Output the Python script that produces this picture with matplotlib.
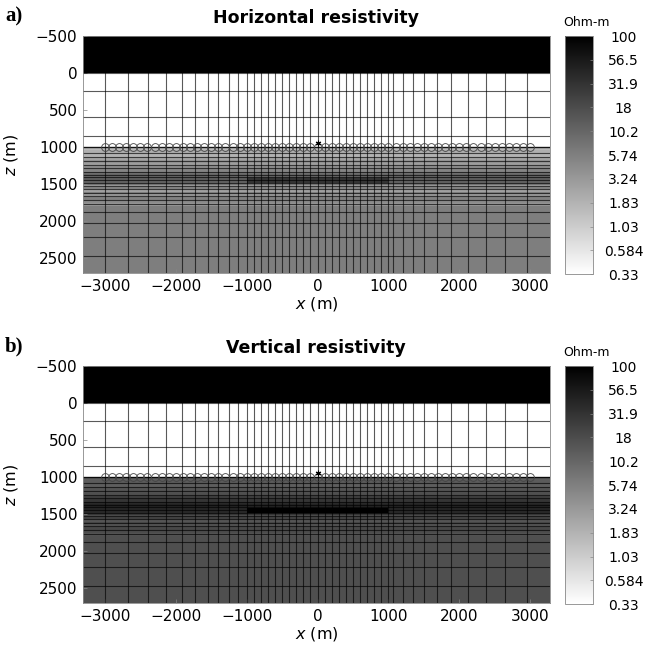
import numpy as np
import matplotlib
matplotlib.use("Agg")
import matplotlib.pyplot as plt
from matplotlib.colors import LogNorm

plt.rcParams['font.family'] = ['DejaVu Sans']

# ---------------- data ----------------
titles = ["Horizontal resistivity", "Vertical resistivity"]
panel_labels = ["a)", "b)"]
cbar_ticks = [0.33, 0.584, 1.03, 1.83, 3.24, 5.74, 10.2, 18, 31.9, 56.5, 100]
cbar_ticklabels = ["0.33", "0.584", "1.03", "1.83", "3.24", "5.74", "10.2", "18", "31.9", "56.5", "100"]
x_ticks = [-3000, -2000, -1000, 0, 1000, 2000, 3000]
z_ticks = [-500, 0, 500, 1000, 1500, 2000, 2500]

rho_air = 1e6
rho_water = 0.3
z_seafloor = 1000
# sediment layers (top depths) and resistivities
layer_tops = [1000, 1040, 1080, 1130, 1180, 1210, 1250, 1290, 1330, 1360, 1400,
              1440, 1480, 1510, 1540, 1570, 1600, 1640, 1680, 1720, 1760, 1800]
rho_h = [1.6, 2.0, 1.8, 2.6, 3.4, 3.0, 4.2, 5.2, 8.0, 10.0, 12.0,
         11.0, 7.0, 3.2, 5.0, 2.8, 5.5, 3.4, 5.5, 4.4, 3.4, 6.0]
rho_v = [12, 13, 12, 15, 16, 17, 24, 30, 38, 44, 42,
         40, 28, 18, 22, 15, 20, 16, 20, 18, 15, 17]
# reservoir
res_x = [-1000, 1000]
res_z = [1420, 1490]
res_rho_h = 30
res_rho_v = 100

# mesh lines
mesh_x = [-3000, -2672, -2399, -2145, -1920, -1732, -1549, -1408, -1253, -1120,
          -1000, -900, -800, -700, -600, -500, -400, -300, -200, -100, 0,
          100, 200, 300, 400, 500, 600, 700, 800, 900, 1000,
          1070, 1202, 1342, 1507, 1686, 1883, 2117, 2376, 2648, 2953]
mesh_z = [0, 240, 590, 850, 1000, 1077, 1131, 1185, 1243, 1288, 1333, 1378, 1410,
          1446, 1482, 1527, 1572, 1617, 1662, 1716, 1770, 1874, 2023, 2220, 2469]

# receivers and transmitter
rx_x = [-3000, -2900, -2800, -2700, -2600, -2500, -2400, -2300, -2200, -2100,
        -2000, -1900, -1800, -1700, -1600, -1500, -1400, -1300, -1200, -1100,
        -1000, -900, -800, -700, -600, -500, -400, -300, -200, -100, 0,
        100, 200, 300, 400, 500, 600, 700, 800, 900, 1000,
        1100, 1200, 1300, 1400, 1500, 1600, 1700, 1800, 1900, 2000,
        2100, 2200, 2300, 2400, 2500, 2600, 2700, 2800, 2900, 3000]
rx_z = 995
tx_x = 0
tx_z = 945

xlim = (-3310, 3280)
zlim = (2700, -500)

# ---------------- figure ----------------
W, H = 645, 657
fig = plt.figure(figsize=(W / 100, H / 100), dpi=100)

def fx(px):
    return px / W

def fy(py):
    return 1 - py / H

axes_px = [(36, 273), (366, 603)]   # top, bottom in pixels
norm = LogNorm(vmin=0.33, vmax=100)
cmap = plt.get_cmap('gray_r').copy()
cmap.set_under('white')
cmap.set_over('black')

for i in range(2):
    top, bot = axes_px[i]
    ax = fig.add_axes([fx(83), fy(bot), fx(550) - fx(83), fy(top) - fy(bot)])
    rho_bg = rho_h if i == 0 else rho_v
    rho_res = res_rho_h if i == 0 else res_rho_v

    z_edges = [-600, 0] + layer_tops + [3000]
    x_edges = [-3400, res_x[0], res_x[1], 3400]
    vals = [[rho_air] * 3, [rho_water] * 3]
    for k in range(len(layer_tops)):
        vals.append([rho_bg[k]] * 3)
    vals = np.array(vals, dtype=float)
    z_e = list(z_edges)
    for zr in res_z:
        if zr not in z_e:
            z_e.append(zr)
    z_e = sorted(z_e)
    grid = np.zeros((len(z_e) - 1, 3))
    for r in range(len(z_e) - 1):
        zc = 0.5 * (z_e[r] + z_e[r + 1])
        idx = np.searchsorted(z_edges, zc) - 1
        grid[r, :] = vals[idx, :]
        if res_z[0] <= zc <= res_z[1]:
            grid[r, 1] = rho_res
    ax.pcolormesh(x_edges, z_e, grid, cmap=cmap, norm=norm, shading='flat')

    # mesh lines
    for xv in mesh_x:
        ax.axvline(xv, color='k', lw=0.8, alpha=0.65, zorder=2)
    for zv in mesh_z:
        ax.axhline(zv, color='k', lw=0.8, alpha=0.65, zorder=2)
    ax.axhline(z_seafloor, color='k', lw=1.0, alpha=0.7, zorder=2)

    # receivers & transmitter
    ax.plot(rx_x, [rx_z] * len(rx_x), 'o', ms=5.6, mfc='none', mec='#444444',
            mew=0.6, zorder=3)
    ax.plot([tx_x], [tx_z], marker=(6, 2, 0), ms=4, color='k', mew=0.8, zorder=4)

    ax.set_xlim(*xlim)
    ax.set_ylim(*zlim)
    ax.set_xticks(x_ticks)
    ax.set_yticks(z_ticks)
    ax.set_xticklabels([str(v).replace('-', '\u2212') for v in x_ticks])
    ax.set_yticklabels([str(v).replace('-', '\u2212') for v in z_ticks])
    ax.tick_params(direction='in', length=3, width=0.5, labelsize=11,
                   colors='#888888', labelcolor='black', pad=4)
    for s in ax.spines.values():
        s.set_color('#888888')
        s.set_linewidth(0.6)
    ax.set_xlabel(r'$x$ (m)', fontsize=11.5)
    ax.set_ylabel(r'$z$ (m)', fontsize=11.5)
    ax.xaxis.set_label_coords(0.5, -22 / 237)
    ax.yaxis.set_label_coords((20 - 83) / 467, 0.5)

    # colorbar
    cax = fig.add_axes([fx(565), fy(bot + 1), fx(593) - fx(565), fy(top) - fy(bot + 1)])
    sm = matplotlib.cm.ScalarMappable(norm=norm, cmap=cmap)
    cb = fig.colorbar(sm, cax=cax)
    cb.set_ticks(cbar_ticks)
    cb.set_ticklabels(cbar_ticklabels)
    cb.minorticks_off()
    cax.tick_params(direction='in', length=2, width=0.5, colors='#888888',
                    labelcolor='black', labelsize=10, pad=22)
    for lab in cax.get_yticklabels():
        lab.set_ha('center')
    cb.outline.set_edgecolor('#888888')
    cb.outline.set_linewidth(0.6)

    # texts
    fig.text(fx(316), fy(top - 18), titles[i], ha='center', va='center',
             fontsize=12.5, fontweight='bold')
    fig.text(fx(587), fy(top - 13), 'Ohm-m', ha='center', va='center',
             fontsize=9)
    fig.text(fx(5), fy(top - 20), panel_labels[i], ha='left', va='center',
             fontsize=15, fontweight='bold', family=['Liberation Serif'])

fig.savefig('out.png', dpi=100)
